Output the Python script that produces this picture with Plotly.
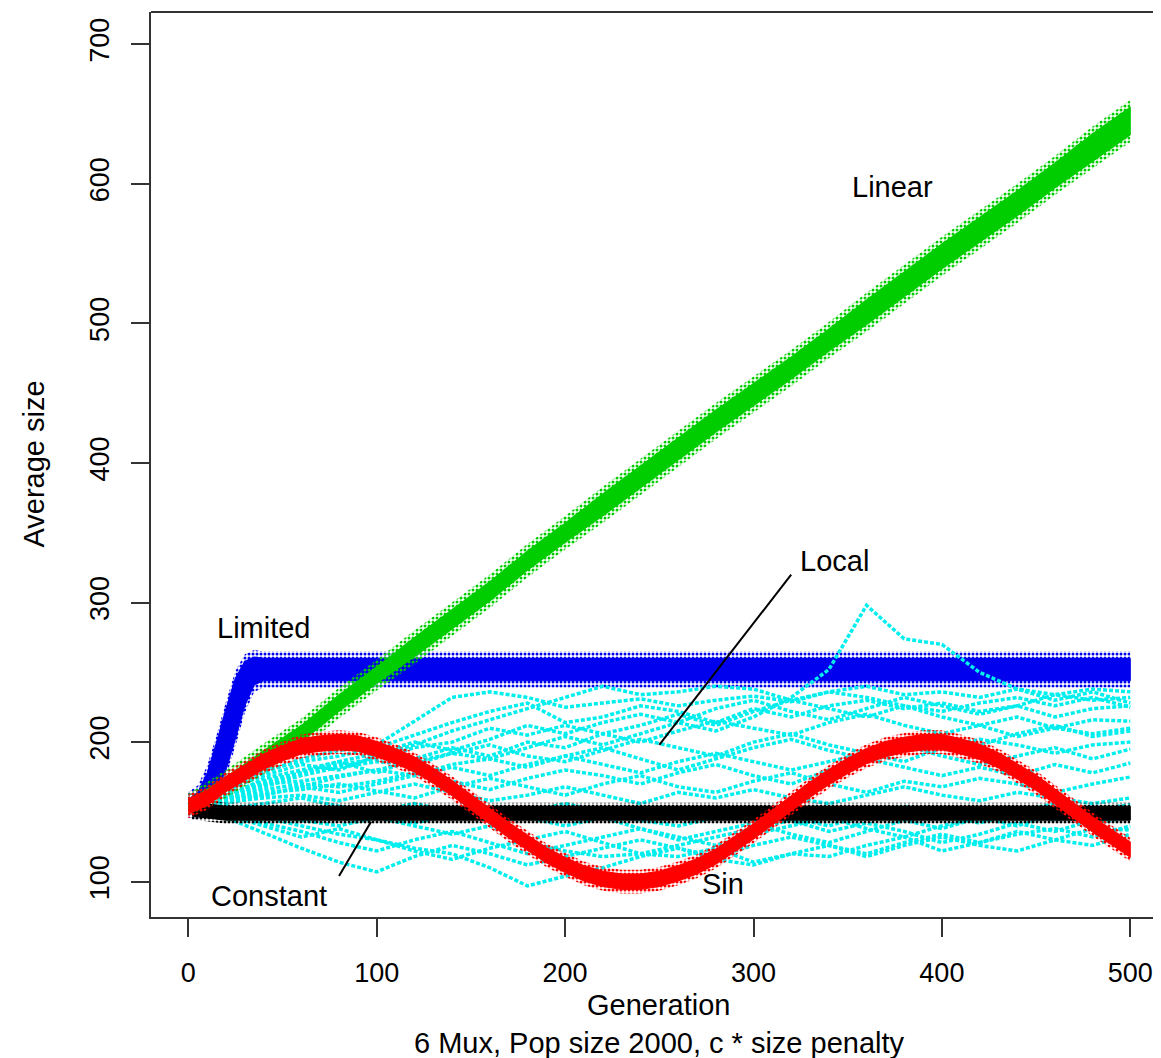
import plotly.graph_objects as go

# ---------------- data ----------------
x_ticks = [0, 100, 200, 300, 400, 500]
y_ticks = [100, 200, 300, 400, 500, 600, 700]

# Linear (green)
linear_gen = list(range(0, 501, 20))
linear_mid = [155, 170, 188, 206, 228, 248, 268, 288, 308, 330, 350, 370, 390,
              410, 430, 449, 468, 488, 508, 528, 548, 567, 586, 606, 626, 645]
linear_hw = [3, 5, 6, 6, 6, 6, 7, 7, 7, 7, 7, 8, 8, 8, 8, 8, 8, 8, 9, 9, 9,
             9, 9, 9, 10, 10]

# Limited (blue)
limited_gen = [0, 5, 10, 15, 20, 25, 30, 35, 40, 60, 100, 150, 200, 250, 300,
               350, 400, 450, 500]
limited_mid = [155, 157, 166, 182, 202, 224, 242, 251, 252, 252, 252, 252, 252,
               252, 252, 252, 252, 252, 252]
limited_hw = [4, 7, 12, 18, 22, 22, 16, 10, 8, 8, 8, 8, 8, 8, 8, 8, 8, 8, 8]

# Sin (red)
sin_gen = list(range(0, 501, 10))
sin_mid = [154, 160, 170, 178, 186, 192, 197, 199, 200, 199, 195, 190, 184, 176,
           167, 157, 147, 137, 128, 119, 112, 106, 102, 100, 100, 102, 106, 111,
           118, 127, 136, 146, 156, 166, 175, 183, 190, 195, 198, 200, 200, 197,
           193, 187, 179, 171, 161, 151, 141, 132, 123]
sin_hw = 5.5

# Constant (black)
constant_gen = [2, 20, 100, 200, 300, 400, 500]
constant_mid = [152, 149, 149, 149, 149, 149, 149]
constant_hw = 5

# Local (cyan) - individual runs, sampled every 20 generations
local_gen = list(range(0, 501, 20))
local_runs = [
    [155, 165, 178, 188, 194, 198, 215, 232, 236, 232, 225, 228, 231, 226, 230, 233, 229, 236, 240, 234, 236, 232, 238, 234, 238, 236],
    [155, 168, 180, 186, 190, 196, 205, 214, 222, 228, 214, 218, 226, 222, 214, 224, 218, 226, 230, 224, 228, 222, 226, 218, 224, 226],
    [155, 163, 172, 178, 184, 188, 196, 200, 210, 205, 212, 206, 200, 208, 215, 210, 205, 214, 220, 212, 206, 212, 218, 210, 206, 210],
    [155, 160, 168, 176, 182, 186, 184, 192, 198, 190, 186, 194, 202, 196, 190, 200, 206, 198, 192, 186, 196, 202, 198, 192, 198, 200],
    [155, 162, 170, 172, 176, 180, 176, 184, 188, 182, 190, 184, 178, 186, 192, 186, 180, 186, 192, 198, 190, 184, 190, 196, 188, 195],
    [155, 158, 166, 170, 168, 172, 178, 172, 166, 174, 180, 176, 170, 178, 184, 176, 170, 180, 188, 182, 176, 182, 176, 184, 178, 185],
    [155, 160, 164, 166, 170, 165, 160, 168, 174, 168, 162, 170, 176, 168, 164, 172, 178, 170, 164, 172, 168, 174, 170, 164, 170, 175],
    [155, 157, 160, 162, 158, 164, 170, 164, 158, 162, 168, 162, 156, 164, 160, 166, 160, 156, 162, 168, 162, 158, 164, 160, 156, 160],
    [155, 158, 162, 168, 175, 180, 186, 192, 188, 196, 204, 198, 206, 214, 208, 218, 232, 252, 298, 274, 270, 250, 238, 230, 236, 228],
    [155, 150, 142, 136, 128, 122, 130, 136, 128, 120, 126, 132, 138, 130, 136, 142, 134, 128, 136, 144, 138, 146, 140, 148, 142, 146],
    [155, 146, 135, 124, 114, 107, 118, 126, 120, 112, 118, 124, 130, 124, 118, 126, 132, 126, 120, 128, 134, 128, 136, 130, 138, 137],
    [155, 150, 146, 140, 134, 130, 124, 120, 110, 97, 104, 110, 118, 124, 116, 112, 120, 126, 118, 126, 132, 126, 122, 130, 126, 134],
    [155, 152, 148, 144, 140, 146, 140, 134, 140, 128, 122, 118, 120, 118, 124, 114, 120, 118, 126, 132, 122, 128, 134, 138, 132, 140],
    [155, 154, 150, 148, 152, 146, 142, 148, 152, 146, 140, 146, 138, 132, 126, 134, 140, 146, 138, 132, 140, 146, 150, 144, 150, 145],
    [155, 166, 176, 184, 180, 190, 198, 208, 216, 224, 232, 240, 234, 236, 240, 238, 230, 236, 232, 226, 222, 228, 232, 226, 232, 225],
    [155, 160, 174, 180, 186, 178, 188, 196, 190, 200, 196, 206, 212, 220, 212, 222, 230, 224, 218, 226, 218, 212, 204, 210, 216, 215],
    [155, 156, 162, 168, 164, 170, 176, 182, 176, 184, 190, 196, 188, 180, 188, 196, 202, 194, 188, 196, 204, 198, 206, 212, 204, 208],
    [155, 152, 156, 160, 154, 150, 156, 150, 144, 150, 156, 150, 144, 140, 146, 152, 146, 140, 148, 154, 148, 142, 150, 156, 152, 155],
    [155, 161, 170, 178, 186, 192, 200, 194, 202, 212, 206, 214, 220, 214, 224, 230, 222, 216, 224, 232, 226, 220, 226, 234, 230, 232],
    [155, 148, 140, 132, 138, 130, 122, 116, 124, 130, 136, 128, 120, 126, 132, 138, 144, 136, 142, 136, 128, 134, 142, 136, 144, 150],
]

# text labels and pointer segments
labels = ["Linear", "Limited", "Local", "Sin", "Constant"]
label_x = [374, 40, 343, 284, 43]
label_y = [598, 282, 330, 98, 90]
local_seg_x = [250, 320]
local_seg_y = [198, 320]
const_seg_x = [80, 97]
const_seg_y = [104, 143]

# ---------------- styling ----------------
GREEN = "#00CD00"
BLUE = "#0000EE"
RED = "#FF0000"
CYAN = "#00EEEE"
AXC = "#333333"
FONT = "Liberation Sans, Arial, Helvetica, sans-serif"
FS_TICK = 27
FS_TXT = 29

OFF = 8  # page offset of the figure inside the browser window
W, H = 1161, 1058
L, T = 151 - OFF, 12 - OFF
B = H - (917 - OFF)
R = OFF
PH = H - T - B
PW = W - L - R


def ypaper(py):
    return (H - B - (py - OFF)) / PH


def xpaper(px):
    return ((px - OFF) - L) / PW


def band(gens, mid, hw, color, extra=0.0, speckled=False):
    if not isinstance(hw, list):
        hw = [hw] * len(gens)
    up = [m + h + extra for m, h in zip(mid, hw)]
    lo = [m - h - extra for m, h in zip(mid, hw)]
    kw = dict(fill="toself", fillcolor=color, line=dict(color=color, width=1))
    if speckled:
        kw = dict(fill="toself", fillcolor="rgba(0,0,0,0)",
                  fillpattern=dict(shape=".", fgcolor=color,
                                   bgcolor="rgba(0,0,0,0)", size=4,
                                   solidity=0.45, fgopacity=1),
                  line=dict(width=0))
    return go.Scatter(x=list(gens) + list(gens)[::-1], y=up + lo[::-1],
                      mode="lines", hoverinfo="skip", showlegend=False, **kw)


fig = go.Figure()

# Limited
fig.add_trace(band(limited_gen, limited_mid, limited_hw, BLUE, 5, True))
fig.add_trace(band(limited_gen, limited_mid, limited_hw, BLUE))

# Local runs
for run in local_runs:
    fig.add_trace(go.Scatter(x=local_gen, y=run, mode="lines",
                             line=dict(color=CYAN, width=3.5, dash="4px,2px"),
                             hoverinfo="skip", showlegend=False))

# Constant
fig.add_trace(band(constant_gen, constant_mid, constant_hw, "black", 2.5, True))
fig.add_trace(band(constant_gen, constant_mid, constant_hw, "black"))

# Linear
fig.add_trace(band(linear_gen, linear_mid, linear_hw, GREEN, 5, True))
fig.add_trace(band(linear_gen, linear_mid, linear_hw, GREEN))

# Sin
fig.add_trace(band(sin_gen, sin_mid, sin_hw, RED, 3, True))
fig.add_trace(band(sin_gen, sin_mid, sin_hw, RED))

# pointer segments
for sx, sy in [(local_seg_x, local_seg_y), (const_seg_x, const_seg_y)]:
    fig.add_trace(go.Scatter(x=sx, y=sy, mode="lines",
                             line=dict(color="black", width=2),
                             hoverinfo="skip", showlegend=False))

for t, x, y in zip(labels, label_x, label_y):
    fig.add_annotation(x=x, y=y, text=t, showarrow=False,
                       xanchor="center", yanchor="middle",
                       font=dict(family=FONT, size=FS_TXT, color="black"))

# axis titles
fig.add_annotation(x=250, xref="x", y=ypaper(1005), yref="paper",
                   text="Generation", showarrow=False,
                   xanchor="center", yanchor="middle",
                   font=dict(family=FONT, size=FS_TXT, color="black"))
fig.add_annotation(x=250, xref="x", y=ypaper(1043), yref="paper",
                   text="6 Mux, Pop size 2000, c * size penalty",
                   showarrow=False, xanchor="center", yanchor="middle",
                   font=dict(family=FONT, size=FS_TXT, color="black"))
fig.add_annotation(x=xpaper(33), xref="paper", y=0.5, yref="paper",
                   text="Average size", textangle=-90, showarrow=False,
                   xanchor="center", yanchor="middle",
                   font=dict(family=FONT, size=FS_TXT, color="black"))

# top border of the box
fig.add_shape(type="line", xref="paper", yref="paper", x0=0, x1=1, y0=1, y1=1,
              line=dict(color=AXC, width=2))

fig.update_layout(
    width=W, height=H,
    margin=dict(l=L, r=R, t=T, b=B, pad=0, autoexpand=False),
    paper_bgcolor="white", plot_bgcolor="white",
    showlegend=False,
    font=dict(family=FONT, size=FS_TICK, color="black"),
    xaxis=dict(range=[-19.8, 516.3], tickvals=x_ticks,
               ticktext=[str(v) for v in x_ticks],
               showgrid=False, zeroline=False, showline=True,
               linecolor=AXC, linewidth=2, automargin=False,
               ticks="outside", ticklen=18, tickwidth=2, tickcolor=AXC,
               ticklabelstandoff=13,
               tickfont=dict(family=FONT, size=FS_TICK, color="black")),
    yaxis=dict(range=[74.7, 723.1], tickvals=y_ticks,
               ticktext=[str(v) for v in y_ticks],
               showgrid=False, zeroline=False, showline=True,
               linecolor=AXC, linewidth=2, automargin=False,
               ticks="outside", ticklen=18, tickwidth=2, tickcolor=AXC,
               tickangle=-90, ticklabelstandoff=11,
               tickfont=dict(family=FONT, size=FS_TICK, color="black")),
)

fig.write_html("out.html")
